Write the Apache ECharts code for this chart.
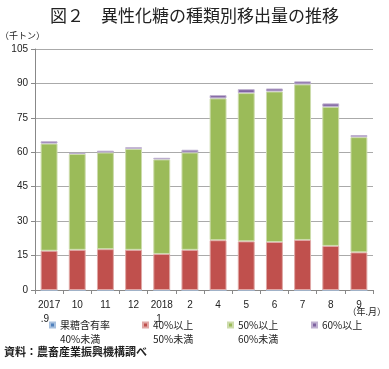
<!DOCTYPE html>
<html><head><meta charset="utf-8">
<script src="https://cdn.jsdelivr.net/npm/echarts@6/dist/echarts.min.js"></script>
<style>html,body{margin:0;padding:0;background:#fff}#c{width:389px;height:369px}</style>
</head><body><div id="c"></div>
<script>
const categories = ['2017\n.9   ', '10', '11', '12', '2018\n.1   ', '2', '4', '5', '6', '7', '8', '9'];
const seriesNames = ['果糖含有率\n40%未満', '40%以上\n50%未満', '50%以上\n60%未満', '60%以上'];
const below40 = [0, 0, 0, 0, 0, 0, 0, 0, 0, 0, 0, 0];
const from40to50 = [17.1, 17.5, 17.8, 17.5, 15.7, 17.5, 21.7, 21.2, 20.9, 21.8, 19.2, 16.4];
const from50to60 = [46.7, 41.8, 42.1, 44.0, 41.2, 42.4, 61.8, 64.6, 65.6, 67.8, 60.6, 50.2];
const over60 = [1.0, 0.4, 0.8, 0.7, 0.7, 1.2, 1.4, 1.7, 1.3, 1.3, 1.5, 0.9];
const yTicks = [0, 15, 30, 45, 60, 75, 90, 105];

const colors = ['#4F81BD', '#C0504D', '#9BBB59', '#8064A2'];
const borders = ['#a7c0de', '#e0a8a6', '#cddcac', '#bfb1d0'];
const legendLefts = [49, 142, 227, 311];
const FONT = '"Noto Sans CJK JP", "Noto Sans", sans-serif';
const chart = echarts.init(document.getElementById('c'), null, {renderer: 'canvas'});
const data = [below40, from40to50, from50to60, over60];
chart.setOption({
  animation: false,
  textStyle: {fontFamily: FONT},
  title: {
    text: '図２　異性化糖の種類別移出量の推移',
    left: 'center', top: 2,
    textStyle: {fontSize: 17, fontWeight: 'normal', color: '#222', fontFamily: FONT}
  },
  grid: {left: 35, right: 16, top: 49, bottom: 79},
  legend: seriesNames.map((n, i) => ({
    data: [n],
    left: legendLefts[i], top: 304, padding: 0,
    itemWidth: 5, itemHeight: 5,
    icon: 'rect',
    selectedMode: false,
    formatter: s => '\n' + s + (s.indexOf('\n') < 0 ? '\n ' : ''),
    textStyle: {fontSize: 10, color: '#222', lineHeight: 14, fontFamily: FONT}
  })),
  xAxis: {
    type: 'category',
    data: categories,
    axisLine: {lineStyle: {color: '#888'}},
    axisTick: {show: true, length: 4, lineStyle: {color: '#888'}},
    axisLabel: {fontSize: 10, color: '#222', margin: 8, lineHeight: 14, interval: 0, fontFamily: 'Liberation Sans, Arial, sans-serif'}
  },
  yAxis: {
    type: 'value',
    min: yTicks[0], max: yTicks[yTicks.length - 1], interval: 15,
    axisLine: {show: true, lineStyle: {color: '#888'}},
    axisTick: {show: true, length: 4, lineStyle: {color: '#888'}},
    splitLine: {lineStyle: {color: '#aaa'}},
    axisLabel: {fontSize: 10, color: '#222', margin: 7, fontFamily: 'Liberation Sans, Arial, sans-serif'}
  },
  graphic: [
    {type: 'text', left: 0, top: 31, style: {text: '（千トン）', fontSize: 9, fill: '#222', fontFamily: FONT}},
    {type: 'text', right: 3, top: 307, style: {text: '（年.月）', fontSize: 9, fill: '#222', fontFamily: FONT}},
    {type: 'text', left: 4, top: 346, style: {text: '資料：農畜産業振興機構調べ', fontSize: 11, fontWeight: 'bold', fill: '#222', fontFamily: FONT}}
  ],
  series: seriesNames.map((n, i) => ({
    name: n, type: 'bar', stack: 'total', barWidth: '60%',
    data: data[i],
    itemStyle: {color: colors[i], borderColor: borders[i], borderWidth: 1}
  }))
});
</script></body></html>
